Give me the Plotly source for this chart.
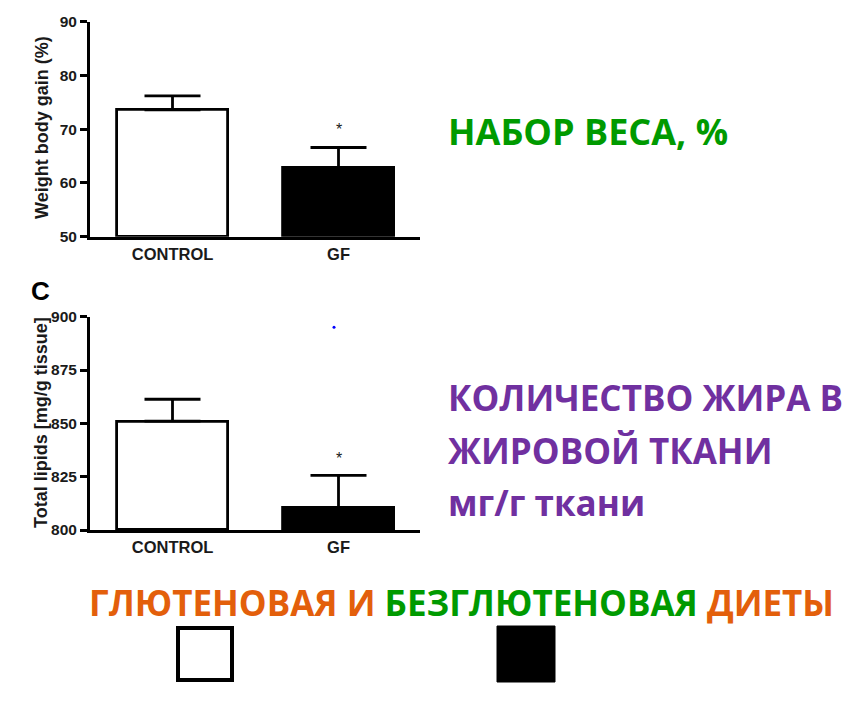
import plotly.graph_objects as go

W, H = 864, 715
OFF = 8  # page body margin

categories = ["CONTROL", "GF"]
weight_gain = [73.6, 62.9]
weight_gain_err = [2.6, 3.7]
lipids = [851.0, 810.6]
lipids_err = [10.3, 15.0]
weight_ticks = [50, 60, 70, 80, 90]
lipid_ticks = [800, 825, 850, 875, 900]
bar_colors = ["white", "black"]

def px(x):
    return (x - OFF) / W

def py(y):
    return 1 - (y - OFF) / H

fig = go.Figure()
xs = [0, 1]
fig.add_trace(go.Bar(
    x=xs, y=[v - 50 for v in weight_gain], base=[50, 50], width=0.669,
    marker=dict(color=bar_colors, line=dict(color="black", width=2.8)),
    error_y=dict(type="data", array=weight_gain_err, arrayminus=[0, 0], symmetric=False,
                 color="black", thickness=2.8, width=28),
    xaxis="x", yaxis="y", showlegend=False))
fig.add_trace(go.Bar(
    x=xs, y=[v - 800 for v in lipids], base=[800, 800], width=0.669,
    marker=dict(color=bar_colors, line=dict(color="black", width=2.8)),
    error_y=dict(type="data", array=lipids_err, arrayminus=[0, 0], symmetric=False,
                 color="black", thickness=2.8, width=28),
    xaxis="x2", yaxis="y2", showlegend=False))
# stray blue dot in the source figure
fig.add_trace(go.Scatter(x=[0.973], y=[895], mode="markers",
                         marker=dict(color="blue", size=3), xaxis="x2", yaxis="y2",
                         showlegend=False, hoverinfo="skip"))

xr = [-0.497, 1.491]
xtickfont = dict(family="Liberation Sans, Arial", size=16.5, color="#1a1a1a", weight="bold")
ytickfont = dict(family="Liberation Sans, Arial", size=15.5, color="#1a1a1a", weight="bold")
axcommon = dict(showgrid=False, zeroline=False, showline=True, linecolor="black", linewidth=3,
                automargin=False)
fig.update_layout(
    template="none",
    width=W, height=H, margin=dict(l=0, r=0, t=0, b=0, pad=0), autosize=False,
    paper_bgcolor="white", plot_bgcolor="white", bargap=0, showlegend=False,
    xaxis=dict(domain=[px(90), px(420)], range=xr, tickvals=xs, ticktext=categories,
               ticks="", tickfont=xtickfont, anchor="y", **axcommon),
    yaxis=dict(domain=[py(236.7), py(21.7)], range=[50, 90], tickvals=weight_ticks,
               ticks="outside", ticklen=7, tickwidth=3, tickcolor="black",
               tickfont=ytickfont, anchor="x", **axcommon),
    xaxis2=dict(domain=[px(90), px(420)], range=xr, tickvals=xs, ticktext=categories,
                ticks="", tickfont=xtickfont, anchor="y2", **axcommon),
    yaxis2=dict(domain=[py(530), py(316.7)], range=[800, 900], tickvals=lipid_ticks,
                ticks="outside", ticklen=7, tickwidth=3, tickcolor="black",
                tickfont=ytickfont, anchor="x2", **axcommon),
)

ann = []
bold = "Liberation Sans, Arial"
def A(**kw):
    d = dict(showarrow=False, xanchor="center", yanchor="middle")
    d.update(kw)
    ann.append(d)

A(text="<b>Weight body gain (%)</b>", x=px(42), y=py(128), xref="paper", yref="paper",
  textangle=-90, font=dict(family=bold, size=18, color="#1a1a1a"))
A(text="<b>Total lipids [mg/g tissue]</b>", x=px(41), y=py(423), xref="paper", yref="paper",
  textangle=-90, font=dict(family=bold, size=18, color="#1a1a1a"))
A(text="*", x=1, y=70.0, xref="x", yref="y", font=dict(family=bold, size=16, color="#1a1a1a"))
A(text="*", x=1, y=833.5, xref="x2", yref="y2", font=dict(family=bold, size=16, color="#1a1a1a"))
A(text="<b>C</b>", x=px(40), y=py(291), xref="paper", yref="paper",
  font=dict(family=bold, size=26, color="black"))

tfont = "Open Sans"
green = "#009a00"
purple = "#7030a0"
orange = "#e35f0b"
A(text="<b>НАБОР ВЕСА, %</b>", x=px(446), y=py(132), xref="paper", yref="paper",
  xanchor="left", font=dict(family=tfont, size=36, color=green))
for txt, yy in [("КОЛИЧЕСТВО ЖИРА В", 398), ("ЖИРОВОЙ ТКАНИ", 450), ("мг/г ткани", 502)]:
    A(text="<b>" + txt + "</b>", x=px(446), y=py(yy), xref="paper", yref="paper",
      xanchor="left", font=dict(family=tfont, size=35, color=purple))
A(text=f"<b><span style='color:{orange}'>ГЛЮТЕНОВАЯ И </span>"
       f"<span style='color:{green}'>БЕЗГЛЮТЕНОВАЯ </span>"
       f"<span style='color:{orange}'>ДИЕТЫ</span></b>",
  x=px(462), y=py(602), xref="paper", yref="paper",
  font=dict(family=tfont, size=35, color=orange))
fig.update_layout(annotations=ann)

fig.add_shape(type="rect", xref="paper", yref="paper", x0=px(178), x1=px(232), y0=py(680), y1=py(628),
              line=dict(color="black", width=4), fillcolor="white")
fig.add_shape(type="rect", xref="paper", yref="paper", x0=px(497), x1=px(555), y0=py(682), y1=py(626),
              line=dict(color="black", width=1), fillcolor="black")

fig.write_html("out.html")
